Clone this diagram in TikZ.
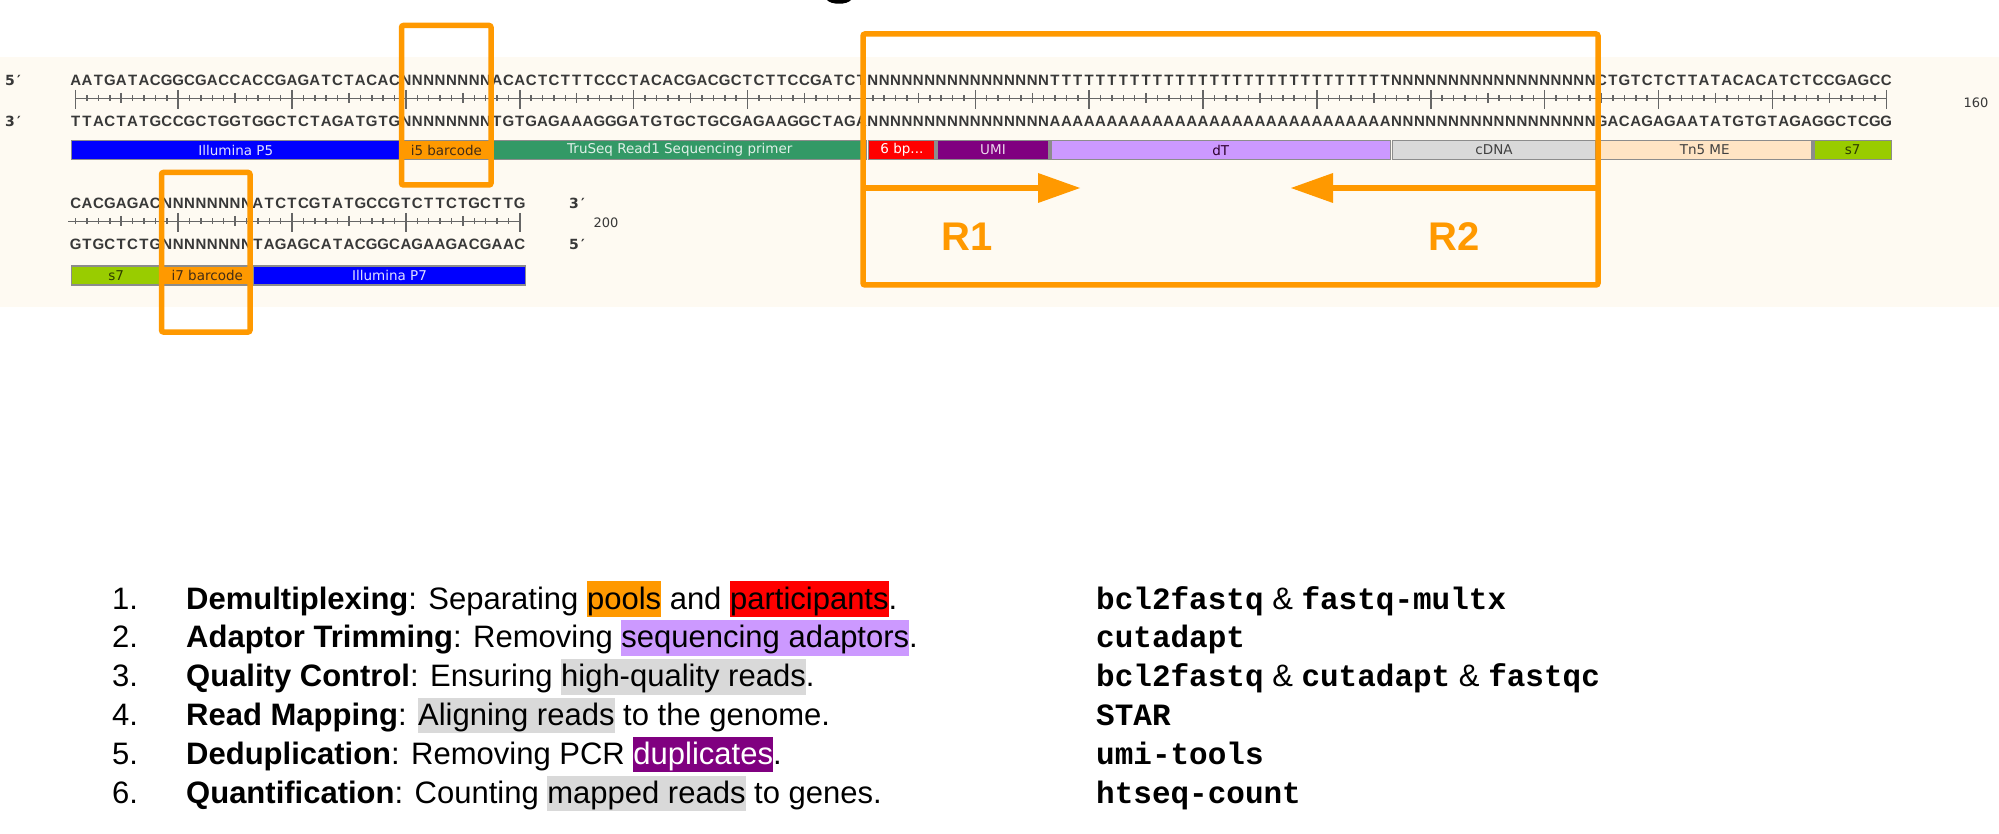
\documentclass[tikz,border=0pt]{standalone}
\usepackage{fontspec}
\setmainfont{Liberation Sans}
\newfontfamily\seqfont{Liberation Sans}
\newfontfamily\barfont{DejaVu Sans}
\newfontfamily\toolfont{Liberation Mono}
\usetikzlibrary{arrows.meta}

\definecolor{cream}{HTML}{FEFAF2}
\definecolor{boxorange}{HTML}{FF9900}
\definecolor{seqgray}{HTML}{383838}
\definecolor{rulergray}{HTML}{666666}
\definecolor{bargray}{HTML}{8C8C8C}
\definecolor{illblue}{HTML}{0000FF}
\definecolor{truseq}{HTML}{339966}
\definecolor{sixred}{HTML}{FF0000}
\definecolor{umipurple}{HTML}{800080}
\definecolor{dtlilac}{HTML}{CC99FF}
\definecolor{cdnagray}{HTML}{D9D9D9}
\definecolor{tnpeach}{HTML}{FFE4C4}
\definecolor{sgreen}{HTML}{99CC00}

% one letter per base, placed on a fixed pitch
\newcount\seqi
\newcommand\pitch{11.3875}
\newcommand\putseq[3]{\def\seqx{#1}\def\seqy{#2}\global\seqi=0 \seqloop#3\relax}
\def\seqloop#1{\ifx#1\relax\else
  \node[seqch] at ({\seqx+\the\seqi*\pitch},\seqy) {#1};%
  \global\advance\seqi by 1 \expandafter\seqloop\fi}

% feature bar: name, centre y, first base, last base, fill, text colour, label
\newcommand\featbar[7]{%
  \pgfmathsetmacro\fx{70+(#3-1)*\pitch+1}%
  \pgfmathsetmacro\fw{(#4-#3+1)*\pitch-2}%
  \node[featbox, fill=#5, text=#6, minimum width=\fw pt] (#1) at (\fx,#2) {#7};}

% highlighted words in the step list
\newcommand\hl[3][black]{{\setlength{\fboxsep}{0pt}\colorbox{#2}{\textcolor{#1}{\rule[-0.25em]{0pt}{1.15em}#3}}}}
\newcommand\tool[1]{{\toolfont\bfseries #1}}

\tikzset{
  seqch/.style={inner sep=0pt, anchor=base, text=seqgray,
    font=\seqfont\bfseries\fontsize{15}{15}\selectfont},
  endlabel/.style={inner sep=0pt, anchor=base west, text=seqgray,
    font=\barfont\bfseries\fontsize{14}{14}\selectfont},
  poslabel/.style={inner sep=0pt, text=seqgray,
    font=\barfont\fontsize{13}{13}\selectfont},
  rulerline/.style={draw=rulergray, line width=1.5pt},
  featbox/.style={draw=bargray, line width=1.2pt, minimum height=19pt,
    inner sep=0pt, anchor=west, font=\barfont\fontsize{13.5}{13.5}\selectfont},
  hlbox/.style={draw=boxorange, line width=5.5pt, rounded corners=2pt},
  readarrow/.style={draw=boxorange, line width=5.5pt,
    -{Triangle[length=42pt,width=30pt,line width=0pt]}},
  readlabel/.style={inner sep=0pt, text=boxorange,
    font=\bfseries\fontsize{40}{40}\selectfont},
  listnum/.style={inner sep=0pt, anchor=base west, font=\fontsize{31}{37}\selectfont},
  listtext/.style={inner sep=0pt, anchor=base west, font=\fontsize{31}{37}\selectfont},
}

\begin{document}
\begin{tikzpicture}[x=1pt,y=-1pt]
\useasboundingbox (0,0) rectangle (1999,834);

% tail of the heading above the map
\fill[black] (827,0) .. controls (831,5) and (847,5) .. (851,0) -- cycle;

% sequence map panel
\fill[cream] (0,57) rectangle (1999,307);

% strand end labels
\node[endlabel] (fivetop) at (5,85.7) {5};
\node[endlabel] (fivetopp) at (17,85.7) {′};
\node[endlabel] (threebot) at (5,127) {3};
\node[endlabel] (threebotp) at (17,127) {′};
\node[endlabel] (threeend) at (569,208.7) {3};
\node[endlabel] (threeendp) at (581,208.7) {′};
\node[endlabel] (fiveend) at (569,250) {5};
\node[endlabel] (fiveendp) at (581,250) {′};
\node[poslabel] (pos160) at (1976,102.5) {160};
\node[poslabel] (pos200) at (606,223) {200};

% bases 1-160
\putseq{75.69}{85.7}{AATGATACGGCGACCACCGAGATCTACACNNNNNNNNACACTCTTTCCCTACACGACGCTCTTCCGATCTNNNNNNNNNNNNNNNNTTTTTTTTTTTTTTTTTTTTTTTTTTTTTTNNNNNNNNNNNNNNNNNNCTGTCTCTTATACACATCTCCGAGCC}
\putseq{75.69}{127}{TTACTATGCCGCTGGTGGCTCTAGATGTGNNNNNNNNTGTGAGAAAGGGATGTGCTGCGAGAAGGCTAGANNNNNNNNNNNNNNNNAAAAAAAAAAAAAAAAAAAAAAAAAAAAAANNNNNNNNNNNNNNNNNNGACAGAGAATATGTGTAGAGGCTCGG}
% bases 161-200
\putseq{75.69}{208.7}{CACGAGACNNNNNNNNATCTCGTATGCCGTCTTCTGCTTG}
\putseq{75.69}{250}{GTGCTCTGNNNNNNNNTAGAGCATACGGCAGAAGACGAAC}

% rulers
\draw[rulerline] (75.69,98.3) -- (1886.3,98.3);
\foreach \n in {1,...,160}
  \draw[rulerline] ({75.69+(\n-1)*\pitch},95.3) -- ++(0,6);
\foreach \n in {5,15,...,155}
  \draw[rulerline] ({75.69+(\n-1)*\pitch},93) -- ++(0,10.5);
\foreach \n in {1,10,20,...,160}
  \draw[rulerline] ({75.69+(\n-1)*\pitch},90) -- ++(0,19.3);

\draw[rulerline] (68,221.3) -- (520.6,221.3);
\foreach \n in {1,...,40}
  \draw[rulerline] ({75.69+(\n-1)*\pitch},218.3) -- ++(0,6);
\foreach \n in {5,15,25,35}
  \draw[rulerline] ({75.69+(\n-1)*\pitch},216) -- ++(0,10.5);
\foreach \n in {10,20,30,40}
  \draw[rulerline] ({75.69+(\n-1)*\pitch},213) -- ++(0,19.3);

% features
\featbar{p5}{150}{1}{29}{illblue}{white!88!blue}{Illumina P5}
\featbar{i5}{150}{30}{37}{boxorange}{black!65!brown}{i5 barcode}
\featbar{read1}{150}{38}{70}{truseq}{white!85!truseq}{TruSeq Read1 Sequencing primer}
\featbar{sixbp}{150}{71}{76}{sixred}{white}{6 bp...}
\featbar{umi}{150}{77}{86}{umipurple}{white!85!umipurple}{UMI}
\featbar{dt}{150}{87}{116}{dtlilac}{black!65!umipurple}{dT}
\featbar{cdna}{150}{117}{134}{cdnagray}{black!75}{cDNA}
\featbar{tn5}{150}{135}{153}{tnpeach}{black!75}{Tn5 ME}
\featbar{sseven}{150}{154}{160}{sgreen}{black!70!sgreen}{s7}
\featbar{sseventail}{275.5}{1}{8}{sgreen}{black!70!sgreen}{s7}
\featbar{i7}{275.5}{9}{16}{boxorange}{black!65!brown}{i7 barcode}
\featbar{p7}{275.5}{17}{40}{illblue}{white!88!blue}{Illumina P7}

% index and insert frames
\draw[hlbox] (401.5,25.5) rectangle (491,185);
\draw[hlbox] (161.5,172.5) rectangle (250,332);
\draw[hlbox] (863,34) rectangle (1598,285);

% read directions
\coordinate (r1from) at (863,188);
\coordinate (r1to) at (1080,188);
\coordinate (r2from) at (1598,188);
\coordinate (r2to) at (1291,188);
\draw[readarrow] (r1from) -- (r1to);
\draw[readarrow] (r2from) -- (r2to);
\node[readlabel] (rone) at (967,237) {R1};
\node[readlabel] (rtwo) at (1454,237) {R2};

% processing steps
\foreach \i/\txt in {
  1/{\textbf{Demultiplexing}: Separating \hl{boxorange}{pools} and \hl{sixred}{participants}.},
  2/{\textbf{Adaptor Trimming}: Removing \hl{dtlilac}{sequencing adaptors}.},
  3/{\textbf{Quality Control}: Ensuring \hl{cdnagray}{high-quality reads}.},
  4/{\textbf{Read Mapping}: \hl{cdnagray}{Aligning reads} to the genome.},
  5/{\textbf{Deduplication}: Removing PCR \hl[white]{umipurple}{duplicates}.},
  6/{\textbf{Quantification}: Counting \hl{cdnagray}{mapped reads} to genes.}}
{
  \node[listnum] (num\i) at (112,{609+(\i-1)*38.9}) {\i.};
  \node[listtext] (step\i) at (186,{609+(\i-1)*38.9}) {\txt};
}
\foreach \i/\txt in {
  1/{\tool{bcl2fastq} \& \tool{fastq-multx}},
  2/{\tool{cutadapt}},
  3/{\tool{bcl2fastq} \& \tool{cutadapt} \& \tool{fastqc}},
  4/{\tool{STAR}},
  5/{\tool{umi-tools}},
  6/{\tool{htseq-count}}}
{
  \node[listtext] (tool\i) at (1096,{609+(\i-1)*38.9}) {\txt};
}
\end{tikzpicture}
\end{document}
